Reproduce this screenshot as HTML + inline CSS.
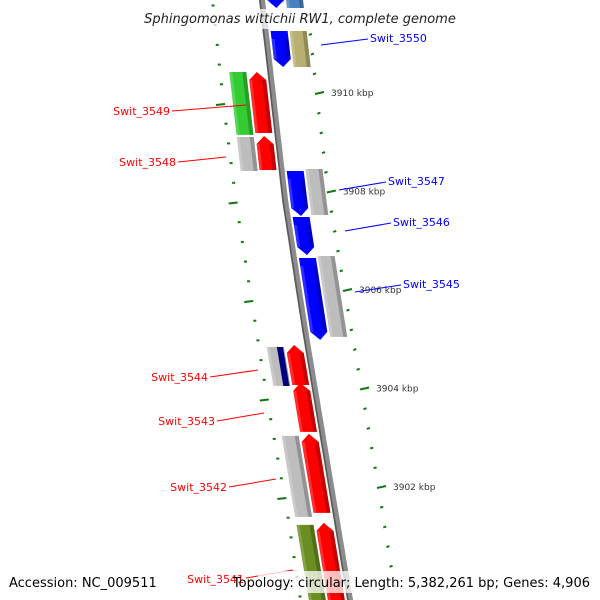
<!DOCTYPE html>
<html><head><meta charset="utf-8"><style>
html,body{margin:0;padding:0;background:#fff}
svg{display:block;font-family:"DejaVu Sans","Liberation Sans",sans-serif}
</style></head><body>
<svg id="map" width="600" height="600" viewBox="0 0 600 600"></svg>
<script>
const tickBp = [3900000,3900400,3900800,3901200,3901600,3902000,3902400,3902800,3903200,3903600,3904000,3904400,3904800,3905200,3905600,3906000,3906400,3906800,3907200,3907600,3908000,3908400,3908800,3909200,3909600,3910000,3910400,3910800,3911200,3911600,3912000];
const majorLabels = ["3902 kbp","3904 kbp","3906 kbp","3908 kbp","3910 kbp"];
const majorBp = [3902000,3904000,3906000,3908000,3910000];
const geneNames = ["","Swit_3550","Swit_3549","Swit_3548","Swit_3547","Swit_3546","Swit_3545","Swit_3544","Swit_3543","Swit_3542","Swit_3541"];
const geneStrand = [-1,-1,1,1,-1,-1,-1,1,1,1,1];
const geneStart = [3911726,3910528,3909188,3908437,3907503,3906711,3904986,3904072,3903118,3901474,3899500];
const geneEnd = [3912000,3911259,3910426,3909127,3908417,3907483,3906650,3904884,3904113,3903078,3901271];
const geneColor = ["#0000ff","#0000ff","#ff0000","#ff0000","#0000ff","#0000ff","#0000ff","#ff0000","#ff0000","#ff0000","#ff0000"];
const cdsStart = [3911726,3910528,3909150,3908416,3907523,null,3905047,3904052,null,3901393,3899500];
const cdsEnd = [3912000,3911259,3910426,3909107,3908457,null,3906690,3904843,null,3903037,3901230];
const cdsColor = ["#4a82c0","#b8b070","#33cc33","#bdbdbd","#bdbdbd",null,"#bdbdbd","#bdbdbd",null,"#bdbdbd","#6b8e23"];

const NS="http://www.w3.org/2000/svg";
const svg=document.getElementById('map');
function yOf(bp){return 93+(3910000-bp)*0.04925;}
function interp(pts,y){for(let i=0;i<pts.length-1;i++){if(y<=pts[i+1][0]||i==pts.length-2){const[a,b]=pts[i],[c,d]=pts[i+1];return b+(y-a)*(d-b)/(c-a);}}}
const bbPts=[[-20,260],[0,262],[200,285],[330,305],[600,350],[620,353]];
const rPts=[[-20,303],[0,305],[35,309],[93,315],[193,327],[290,343],[388,360],[487,377],[600,395],[620,398]];
const lPts=[[-20,212],[0,214],[104,225],[205,238],[306,254],[407,270],[507,288],[600,302],[620,305]];
function bb(y){return interp(bbPts,y);}
function el(tag,attrs,name,inter){const e=document.createElementNS(NS,tag);for(const k in attrs)e.setAttribute(k,attrs[k]);


svg.appendChild(e);return e;}

// backbone
let d='';for(let y=-10;y<=610;y+=10){d+=(y==-10?'M':'L')+bb(y).toFixed(1)+','+y+' ';}
el('path',{d:d,stroke:'#8c8c8c','stroke-width':6,fill:'none'},'backbone',false);
el('path',{d:d,stroke:'#5a5a5a','stroke-width':1.5,fill:'none',transform:'translate(-2,0)'},'backbone-edge',false);

// ticks
tickBp.forEach((bp,i)=>{
  const y=yOf(bp); const major=majorBp.includes(bp);
  const len=major?9:3;
  if(y>-5&&y<605){
    const x=interp(rPts,y);
    el('line',{x1:x,y1:y+1,x2:x+len,y2:y-(major?1:0),stroke:'#117711','stroke-width':2},'right-tick',false);
  }
  const yl=y+11;
  if(yl>-5&&yl<605){
    const x=interp(lPts,yl);
    el('line',{x1:x-len,y1:yl+(major?1:0),x2:x,y2:yl,stroke:'#117711','stroke-width':2},'left-tick',false);
  }
});
majorBp.forEach((bp,i)=>{
  const y=yOf(bp);const x=interp(rPts,y);
  const t=el('text',{x:x+16,y:y+3,'font-size':9,fill:'#333'},'tick-label',false);t.textContent=majorLabels[i];
});

function feature(s,e,o1,o2,strand,color,name,arrow){
  let y1=yOf(e),y2=yOf(s);
  const head=arrow?8:0;
  const pts=[];
  if(strand==1){
    pts.push([bb(y1+head)+o1,y1+head],[bb(y1)+(o1+o2)/2,y1],[bb(y1+head)+o2,y1+head],[bb(y2)+o2,y2],[bb(y2)+o1,y2]);
  }else{
    pts.push([bb(y1)+o1,y1],[bb(y1)+o2,y1],[bb(y2-head)+o2,y2-head],[bb(y2)+(o1+o2)/2,y2],[bb(y2-head)+o1,y2-head]);
  }
  const p=pts.map(q=>q[0].toFixed(1)+','+q[1].toFixed(1)).join(' ');
  el('polygon',{points:p,fill:color},name,true);
  // shading strip
  const w=o2-o1;
  const sp=[[bb(y1+head)+o2-4,y1+head],[bb(y1+head)+o2,y1+head],[bb(y2-(strand==1?0:head))+o2,y2-(strand==1?0:head)],[bb(y2-(strand==1?0:head))+o2-4,y2-(strand==1?0:head)]];
  el('polygon',{points:sp.map(q=>q[0].toFixed(1)+','+q[1].toFixed(1)).join(' '),fill:'rgba(0,0,0,0.22)'},name+'-shade',false);
  const lp=[[bb(y1+head)+o1,y1+head],[bb(y1+head)+o1+3,y1+head],[bb(y2-(strand==1?0:head))+o1+3,y2-(strand==1?0:head)],[bb(y2-(strand==1?0:head))+o1,y2-(strand==1?0:head)]];
  el('polygon',{points:lp.map(q=>q[0].toFixed(1)+','+q[1].toFixed(1)).join(' '),fill:'rgba(255,255,255,0.18)'},name+'-highlight',false);
}
geneStart.forEach((s,i)=>{
  const st=geneStrand[i];
  const inner=st==1?[-22,-5]:[5,22];
  const outer=st==1?[-41,-24]:[24,41];
  if(cdsStart[i]!==null) feature(cdsStart[i],cdsEnd[i],outer[0],outer[1],st,cdsColor[i],'cds-'+(geneNames[i]||'top').toLowerCase(),false);
  feature(s,geneEnd[i],inner[0],inner[1],st,geneColor[i],'gene-'+(geneNames[i]||'top').toLowerCase(),true);
});
// navy inner strip for Swit_3544 cds
(function(){const y1=yOf(cdsEnd[7]),y2=yOf(cdsStart[7]);
const p=[[bb(y1)-31,y1],[bb(y1)-25,y1],[bb(y2)-25,y2],[bb(y2)-31,y2]];
el('polygon',{points:p.map(q=>q.join(',')).join(' '),fill:'#000080'},'swit-3544-navy-strip',false);})();

// labels
const labs=[
 [1,370,42,321,45,368,39,'start'],
 [2,170,115,172,111,246,105,'end'],
 [3,176,166,178,162,226,157,'end'],
 [4,388,185,339,190,386,182,'start'],
 [5,393,226,345,231,391,223,'start'],
 [6,403,288,355,292,401,285,'start'],
 [7,208,381,210,377,258,370,'end'],
 [8,215,425,217,421,264,413,'end'],
 [9,227,491,229,487,276,479,'end'],
 [10,244,583,246,578,293,570,'end']];
labs.forEach(l=>{
  const i=l[0];const c=geneStrand[i]==1?'#ff0000':'#0000ff';
  el('line',{x1:l[3],y1:l[4],x2:l[5],y2:l[6],stroke:c,'stroke-width':1},'leader-'+geneNames[i].toLowerCase(),false);
  const t=el('text',{x:l[1],y:l[2],'font-size':11,fill:c,'text-anchor':l[7],'font-family':'"DejaVu Sans",sans-serif'},'label-'+geneNames[i].toLowerCase(),true);
  t.textContent=geneNames[i];
});

// title & footer
el('rect',{x:0,y:9,width:600,height:20,fill:'rgba(255,255,255,0.75)'},'title-band',false);
let t=el('text',{x:300,y:23,'font-size':13,'font-style':'italic','text-anchor':'middle',fill:'#222'},'chart-title',false);
t.textContent='Sphingomonas wittichii RW1, complete genome';
el('rect',{x:4,y:571,width:150,height:22,fill:'rgba(255,255,255,0.75)'},'accession-band',false);
el('rect',{x:258,y:571,width:338,height:22,fill:'rgba(255,255,255,0.75)'},'topology-band',false);
t=el('text',{x:9,y:587,'font-size':13,fill:'#000'},'accession-text',false);t.textContent='Accession: NC_009511';
t=el('text',{x:590,y:587,'font-size':13,fill:'#000','text-anchor':'end'},'topology-text',false);t.textContent='Topology: circular; Length: 5,382,261 bp; Genes: 4,906';
</script>
</body></html>
